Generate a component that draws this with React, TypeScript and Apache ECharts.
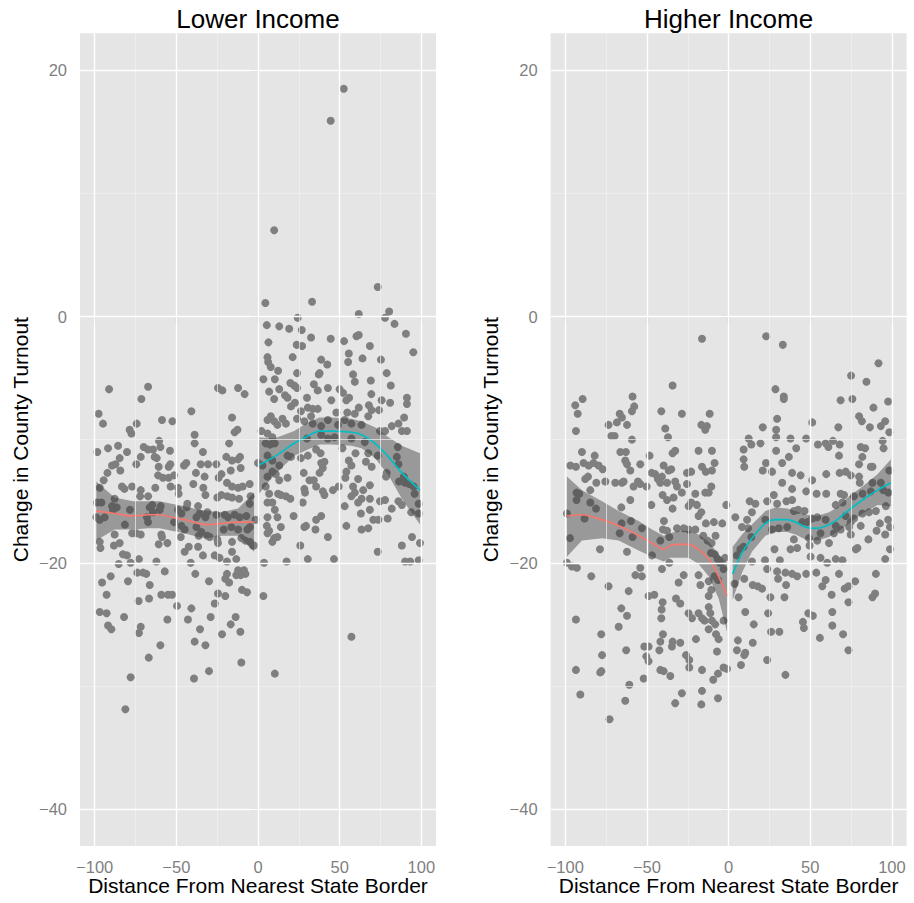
import React, { useEffect, useRef } from "react";
import * as echarts from "echarts";

// ---------- data ----------
const PANEL_TITLES = ["Lower Income", "Higher Income"];
const X_TITLE = "Distance From Nearest State Border";
const Y_TITLE = "Change in County Turnout";
const X_TICKS = [-100, -50, 0, 50, 100];
const Y_TICKS = [-40, -20, 0, 20];
const X_MINOR = [-75, -25, 25, 75];
const Y_MINOR = [-30, -10, 10];

// Lower income, x < 0
const LOW_NEG: number[][] = [
  [-91.2,-5.9],[-67.3,-5.7],[-71.4,-6.7],[-24.5,-5.8],[-21.8,-6.0],[-12.2,-5.8],[-8.2,-6.3],[-97.6,-7.9],[-94.9,-8.7],[-40.8,-7.7],
  [-58.8,-8.4],[-52.4,-8.5],[-74.3,-8.7],[-78.6,-9.2],[-77.5,-9.5],[-15.9,-8.2],[-14.3,-9.4],[-12.6,-9.2],[-38.8,-9.6],[-38.8,-10.3],
  [-17.7,-10.3],[-98.4,-11.0],[-91.8,-10.7],[-85.7,-10.5],[-80.2,-11.0],[-70.0,-10.6],[-67.3,-10.8],[-64.3,-10.8],[-60.6,-10.1],[-59.8,-10.6],
  [-63.3,-11.4],[-62.0,-11.5],[-71.8,-11.4],[-53.9,-10.9],[-33.7,-11.0],[-19.4,-11.4],[-15.9,-11.7],[-12.2,-11.6],[-11.0,-11.4],[-84.7,-11.5],
  [-87.3,-12.0],[-89.4,-12.1],[-74.5,-12.0],[-60.8,-12.2],[-54.7,-12.2],[-53.7,-12.0],[-45.3,-12.1],[-43.9,-11.9],[-35.1,-12.0],[-30.6,-12.0],
  [-25.5,-12.0],[-10.6,-12.3],[-16.7,-12.5],[-84.3,-12.5],[-92.2,-12.7],[-38.0,-12.7],[-22.4,-12.8],[-24.1,-13.1],[-61.2,-12.9],[-58.2,-13.1],
  [-54.7,-13.1],[-51.4,-12.9],[-32.7,-13.0],[-94.5,-13.3],[-83.3,-13.8],[-81.8,-14.0],[-77.1,-13.8],[-71.8,-14.1],[-72.2,-14.6],[-67.3,-14.6],
  [-62.9,-13.9],[-53.5,-13.8],[-49.0,-13.9],[-48.6,-14.4],[-39.6,-13.6],[-33.5,-13.9],[-32.2,-14.5],[-19.0,-13.5],[-15.9,-13.8],[-12.2,-13.9],
  [-9.4,-13.8],[-5.1,-13.6],[-24.9,-14.7],[-22.4,-14.5],[-18.8,-14.6],[-15.9,-14.7],[-11.6,-14.8],[-4.5,-14.6],[-96.9,-13.9],[-87.8,-14.8],
  [-98.6,-15.1],[-95.9,-15.1],[-89.4,-15.4],[-86.5,-15.5],[-88.8,-15.7],[-78.4,-15.7],[-66.3,-15.5],[-64.7,-15.3],[-59.6,-15.4],[-60.2,-15.7],
  [-64.3,-15.9],[-68.0,-16.3],[-49.0,-15.7],[-46.9,-16.0],[-43.7,-15.5],[-43.3,-15.2],[-36.7,-15.4],[-35.7,-16.0],[-31.0,-15.9],[-32.2,-16.3],
  [-37.7,-16.3],[-25.5,-16.1],[-20.4,-16.1],[-18.4,-16.3],[-14.3,-16.1],[-11.2,-16.3],[-7.1,-16.2],[-5.1,-15.2],[-99.0,-16.3],[-96.9,-16.5],
  [-93.9,-16.3],[-81.5,-16.9],[-67.3,-16.7],[-51.4,-16.7],[-46.9,-17.0],[-44.9,-17.3],[-37.7,-17.1],[-34.7,-17.5],[-36.3,-17.8],[-31.0,-17.8],
  [-29.6,-17.9],[-21.0,-17.3],[-16.3,-17.1],[-12.2,-17.3],[-6.5,-17.3],[-4.9,-17.1],[-87.8,-17.7],[-77.1,-17.6],[-74.5,-17.6],[-71.8,-17.7],
  [-59.2,-17.7],[-58.8,-17.9],[-96.9,-18.3],[-96.5,-18.8],[-88.2,-18.6],[-84.7,-18.4],[-60.8,-18.5],[-55.5,-18.4],[-47.3,-17.9],[-42.4,-18.7],
  [-44.9,-19.1],[-36.7,-18.7],[-24.5,-18.4],[-24.9,-18.1],[-15.9,-18.3],[-10.2,-18.0],[-7.7,-18.2],[-4.9,-18.3],[-3.1,-18.6],[-33.7,-19.4],
  [-26.5,-19.4],[-23.5,-19.6],[-19.0,-19.9],[-15.9,-19.1],[-13.3,-19.7],[-82.7,-19.3],[-80.2,-19.4],[-85.3,-20.1],[-78.0,-20.0],[-72.9,-19.7],
  [-62.2,-19.9],[-41.2,-20.0],[-38.4,-20.9],[-12.2,-20.6],[-10.6,-21.0],[-8.6,-20.6],[-7.7,-20.9],[-13.3,-21.0],[-30.0,-21.5],[-20.0,-21.3],
  [-19.0,-20.9],[-17.7,-21.6],[-6.7,-22.4],[-9.8,-22.2],[-90.2,-21.1],[-95.5,-21.6],[-79.6,-21.5],[-73.9,-20.8],[-70.4,-20.8],[-68.4,-20.9],
  [-57.1,-20.7],[-66.3,-21.8],[-92.7,-22.6],[-73.1,-23.1],[-66.7,-22.9],[-59.2,-22.6],[-55.1,-22.6],[-52.6,-22.6],[-49.6,-23.5],[-40.8,-23.7],
  [-26.5,-23.3],[-24.5,-22.5],[-20.0,-22.7],[-96.9,-24.0],[-92.7,-24.1],[-82.0,-24.4],[-55.5,-24.6],[-42.9,-24.6],[-29.0,-24.4],[-13.7,-24.4],
  [-16.7,-25.0],[-10.8,-25.6],[-91.8,-25.1],[-89.8,-25.4],[-71.8,-25.2],[-72.9,-25.7],[-35.5,-25.4],[-22.0,-25.8],[-38.8,-26.4],[-32.2,-26.7],
  [-59.8,-26.7],[-66.9,-27.7],[-10.2,-28.1],[-30.0,-28.8],[-78.0,-29.3],[-39.2,-29.4],[-81.2,-31.9],[-2.5,-18.6],[-1.5,-16.5]
];

// Lower income, x > 0
const LOW_POS: number[][] = [
  [73.3,2.4],[4.5,1.1],[33.1,1.2],[61.7,0.2],[77.8,-0.1],[80.3,0.4],[83.6,-0.6],[24.3,-0.1],[5.4,-0.7],[13.0,-0.8],
  [19.1,-1.0],[26.8,-1.1],[32.5,-1.7],[44.5,-1.8],[52.7,-2.0],[60.3,-1.6],[61.7,-1.5],[90.6,-1.4],[95.1,-2.9],[6.4,-2.1],
  [23.7,-2.3],[27.0,-2.4],[68.5,-2.4],[5.8,-3.3],[6.2,-3.7],[7.8,-4.1],[12.3,-4.4],[21.2,-3.3],[38.7,-3.5],[42.4,-3.9],
  [55.6,-3.0],[55.2,-3.7],[64.0,-3.4],[75.3,-3.5],[78.8,-4.6],[81.3,-5.6],[23.9,-4.6],[3.3,-5.1],[10.3,-5.1],[37.2,-4.7],
  [37.7,-4.6],[58.2,-4.7],[59.3,-5.3],[69.1,-5.2],[19.8,-5.4],[22.2,-5.6],[23.9,-5.8],[34.2,-5.5],[42.8,-5.8],[50.0,-5.9],
  [52.1,-6.2],[6.8,-6.1],[13.0,-5.9],[16.5,-6.4],[18.1,-6.6],[36.6,-6.0],[69.4,-6.3],[9.9,-6.7],[30.0,-6.6],[44.9,-6.8],
  [55.8,-6.6],[54.1,-6.8],[91.2,-6.6],[91.2,-7.1],[22.6,-7.0],[20.2,-7.3],[26.3,-7.7],[30.5,-7.4],[33.5,-7.5],[36.6,-7.5],
  [75.7,-6.8],[80.9,-7.0],[61.7,-7.4],[67.9,-7.2],[69.6,-7.6],[74.1,-7.6],[48.0,-7.8],[54.7,-7.8],[59.3,-7.9],[67.5,-8.1],
  [89.5,-8.2],[7.8,-8.1],[9.9,-8.5],[5.8,-8.4],[15.0,-8.3],[17.1,-8.7],[11.9,-8.8],[23.9,-8.3],[28.4,-8.5],[32.5,-8.1],
  [33.5,-8.7],[38.7,-8.9],[42.8,-8.4],[49.0,-8.8],[53.1,-8.4],[57.2,-8.7],[63.4,-8.8],[81.9,-8.9],[86.0,-8.7],[88.1,-9.3],
  [91.2,-9.3],[2.1,-9.3],[5.8,-9.5],[8.8,-9.8],[10.3,-10.3],[4.7,-10.3],[7.4,-10.4],[30.0,-9.9],[38.7,-9.6],[42.8,-9.9],
  [46.9,-9.8],[57.2,-9.9],[65.4,-10.2],[74.7,-9.3],[77.8,-9.3],[85.6,-10.6],[85.0,-11.4],[86.0,-12.0],[0.0,-11.9],[2.7,-12.1],
  [5.8,-11.3],[8.8,-11.7],[13.0,-12.1],[18.1,-11.3],[20.2,-11.4],[26.3,-11.5],[30.5,-11.3],[38.7,-11.9],[40.7,-11.8],[35.6,-10.8],
  [38.3,-11.1],[51.7,-10.7],[55.6,-11.7],[57.2,-12.1],[59.7,-11.1],[66.1,-11.8],[67.5,-11.1],[69.6,-12.2],[73.3,-11.3],[8.8,-12.6],
  [5.8,-13.0],[10.9,-12.8],[13.0,-13.3],[18.1,-13.1],[28.0,-12.7],[31.5,-13.3],[34.2,-13.3],[37.7,-12.7],[39.7,-12.3],[54.1,-12.6],
  [53.5,-13.1],[61.3,-13.2],[78.8,-12.7],[78.4,-13.0],[86.4,-13.4],[89.3,-13.0],[90.1,-13.5],[92.6,-13.6],[95.3,-13.8],[95.9,-14.4],
  [4.7,-13.8],[6.8,-14.4],[12.3,-14.4],[14.0,-14.5],[17.1,-14.6],[19.8,-14.8],[28.4,-14.0],[28.8,-14.3],[35.6,-13.8],[39.7,-14.2],
  [40.7,-14.5],[45.9,-14.1],[49.4,-13.8],[58.2,-13.8],[59.3,-14.3],[64.4,-14.1],[68.5,-13.7],[57.2,-14.6],[63.4,-14.8],[68.5,-14.8],
  [74.7,-15.0],[77.8,-14.9],[5.8,-15.1],[8.8,-15.1],[10.3,-15.7],[5.8,-16.3],[11.9,-16.3],[21.8,-16.2],[27.4,-15.1],[53.1,-15.4],
  [61.3,-15.1],[63.0,-16.0],[68.5,-15.7],[73.7,-16.5],[70.6,-16.5],[79.4,-16.4],[81.9,-15.6],[86.0,-15.0],[88.1,-15.3],[93.8,-15.9],
  [98.4,-15.2],[98.4,-16.0],[5.4,-17.0],[6.8,-17.4],[5.8,-17.6],[14.0,-17.1],[9.9,-18.0],[8.8,-18.3],[11.9,-17.9],[28.4,-17.1],
  [29.4,-17.0],[35.2,-17.3],[35.6,-16.5],[38.7,-16.2],[54.1,-17.0],[42.8,-17.9],[63.4,-17.3],[67.5,-17.2],[25.9,-18.6],[46.5,-19.7],
  [30.5,-19.7],[17.5,-19.9],[3.7,-20.0],[94.3,-17.9],[99.2,-18.4],[88.1,-18.6],[73.3,-19.1],[90.1,-19.9],[93.2,-19.9],[98.4,-19.8],
  [3.3,-22.7],[57.2,-26.0],[10.3,-29.0],[52.5,18.5],[44.5,15.9],[9.9,7.0]
];

// Higher income, x < 0
const HIGH_NEG: number[][] = [
  [-16.3,-1.8],[-34.3,-5.6],[-58.8,-6.5],[-93.9,-7.2],[-89.4,-6.7],[-92.4,-7.9],[-66.7,-7.9],[-65.3,-8.2],[-57.8,-7.3],[-59.2,-7.7],
  [-41.2,-7.7],[-28.6,-7.9],[-11.6,-7.9],[-73.5,-8.8],[-68.4,-8.6],[-62.2,-8.8],[-16.7,-8.8],[-14.3,-9.2],[-13.3,-8.9],[-38.8,-9.1],
  [-37.1,-9.8],[-93.5,-9.3],[-71.8,-9.7],[-69.8,-9.7],[-59.2,-10.0],[-89.8,-11.0],[-82.0,-11.3],[-66.3,-11.0],[-62.9,-11.0],[-48.4,-11.3],
  [-34.3,-11.1],[-32.7,-10.9],[-18.4,-10.9],[-10.2,-10.9],[-96.9,-12.1],[-93.5,-12.2],[-88.8,-11.9],[-85.7,-12.1],[-82.7,-11.9],[-79.6,-12.1],
  [-77.1,-12.4],[-63.3,-11.7],[-62.2,-12.0],[-60.2,-12.5],[-54.1,-12.0],[-47.1,-12.7],[-44.9,-12.8],[-39.8,-12.1],[-36.7,-12.5],[-35.1,-12.4],
  [-40.8,-13.0],[-25.5,-12.7],[-22.9,-12.6],[-16.3,-12.2],[-14.0,-12.6],[-10.2,-12.5],[-8.6,-11.9],[-87.8,-13.2],[-86.1,-13.0],[-81.0,-13.5],
  [-75.5,-13.4],[-69.4,-13.5],[-65.3,-13.5],[-64.3,-13.4],[-58.2,-13.8],[-55.5,-13.4],[-54.1,-13.6],[-50.2,-13.8],[-43.3,-13.2],[-41.8,-13.5],
  [-37.7,-13.5],[-32.7,-13.4],[-31.6,-13.8],[-25.5,-13.6],[-84.7,-14.1],[-60.2,-14.9],[-47.3,-15.3],[-40.4,-14.5],[-37.7,-14.9],[-33.7,-14.7],
  [-34.3,-15.6],[-28.6,-14.3],[-24.5,-15.4],[-22.9,-15.1],[-20.4,-14.4],[-19.4,-15.3],[-18.4,-16.2],[-16.7,-15.9],[-14.3,-14.3],[-12.2,-14.3],
  [-10.6,-13.8],[-93.1,-14.3],[-91.4,-14.4],[-93.1,-14.9],[-84.7,-15.1],[-81.2,-15.6],[-65.7,-15.5],[-99.0,-16.0],[-88.2,-16.4],[-65.5,-16.8],
  [-59.8,-16.6],[-53.1,-17.2],[-39.6,-16.6],[-40.2,-17.3],[-37.7,-17.4],[-31.6,-17.2],[-27.5,-17.2],[-24.5,-17.3],[-20.4,-17.3],[-13.9,-16.8],
  [-9.0,-16.7],[-3.9,-16.8],[-1.4,-15.3],[-97.1,-18.0],[-78.8,-18.9],[-66.7,-17.6],[-62.2,-19.1],[-58.8,-17.9],[-46.9,-19.4],[-41.8,-18.2],
  [-36.3,-17.9],[-36.3,-20.0],[-40.8,-20.5],[-15.5,-17.8],[-12.9,-18.2],[-10.4,-18.4],[-8.0,-17.8],[-10.8,-19.2],[-8.4,-19.3],[-6.7,-19.7],
  [-5.3,-20.0],[-2.2,-19.6],[-3.1,-20.5],[-99.0,-20.0],[-95.9,-20.3],[-92.9,-20.4],[-84.1,-21.1],[-73.5,-21.9],[-61.2,-22.3],[-54.1,-20.4],
  [-57.1,-21.0],[-53.1,-21.1],[-30.6,-21.6],[-27.5,-21.0],[-18.4,-21.0],[-17.3,-21.8],[-12.2,-21.5],[-10.6,-22.2],[-8.6,-21.1],[-6.5,-21.4],
  [-49.0,-22.7],[-45.5,-22.6],[-40.4,-23.2],[-41.0,-23.8],[-41.2,-24.5],[-32.2,-22.9],[-29.6,-23.3],[-24.5,-24.1],[-22.4,-24.5],[-18.4,-24.1],
  [-16.3,-24.5],[-14.7,-24.7],[-12.2,-22.7],[-12.2,-23.6],[-11.2,-24.1],[-10.2,-24.7],[-8.2,-25.0],[-12.2,-25.4],[-7.7,-25.8],[-6.1,-26.2],
  [-7.1,-27.2],[-3.1,-24.7],[-93.5,-24.6],[-65.7,-23.7],[-62.2,-24.3],[-67.3,-25.2],[-78.0,-25.8],[-77.5,-27.5],[-78.6,-28.9],[-77.9,-28.8],
  [-62.7,-27.1],[-51.6,-26.8],[-49.0,-26.8],[-50.4,-27.6],[-49.0,-28.0],[-41.8,-26.4],[-40.2,-25.8],[-42.4,-27.1],[-34.3,-26.4],[-29.6,-26.5],
  [-34.7,-26.8],[-20.0,-26.2],[-26.1,-27.5],[-24.1,-27.9],[-24.1,-28.5],[-93.5,-28.7],[-90.8,-30.7],[-60.8,-29.9],[-63.3,-31.2],[-52.0,-29.4],
  [-41.8,-28.7],[-39.8,-28.8],[-35.7,-29.2],[-32.7,-31.4],[-28.6,-30.6],[-16.3,-30.4],[-16.7,-31.5],[-16.3,-28.7],[-9.4,-29.5],[-6.5,-29.0],
  [-3.1,-28.5],[-6.5,-31.0],[-72.9,-32.7],[-1.0,-28.6]
];

// Higher income, x > 0
const HIGH_POS: number[][] = [
  [23.0,-1.6],[33.2,-2.3],[91.8,-3.8],[75.0,-4.8],[84.4,-5.3],[28.7,-5.9],[33.8,-6.5],[33.8,-6.7],[68.6,-6.8],[75.8,-6.7],
  [88.7,-7.4],[97.7,-6.9],[29.7,-8.3],[51.2,-8.6],[67.2,-9.0],[79.9,-8.1],[81.6,-8.5],[86.5,-9.0],[93.2,-8.9],[95.9,-8.5],
  [98.4,-9.4],[20.9,-9.0],[29.1,-9.2],[29.1,-9.8],[37.9,-9.9],[47.5,-9.9],[12.3,-9.9],[13.9,-10.4],[9.2,-10.8],[19.5,-10.3],
  [29.1,-10.9],[41.4,-10.7],[54.7,-10.4],[59.4,-10.3],[63.9,-10.1],[68.0,-10.4],[61.1,-10.6],[80.9,-10.6],[83.6,-10.7],[94.3,-10.1],
  [94.9,-10.7],[9.2,-11.6],[9.6,-12.2],[20.9,-12.5],[22.9,-11.9],[26.6,-12.6],[32.8,-11.9],[36.9,-11.4],[38.9,-12.7],[44.1,-12.9],
  [51.2,-13.3],[59.8,-12.8],[67.6,-11.3],[68.0,-12.7],[71.7,-12.6],[74.8,-12.9],[79.9,-12.0],[81.9,-11.4],[87.1,-12.2],[88.1,-12.2],
  [79.9,-13.0],[80.3,-13.5],[88.1,-13.5],[32.8,-13.5],[38.9,-14.0],[47.5,-14.2],[53.9,-14.4],[59.8,-14.4],[68.6,-14.4],[70.7,-14.5],
  [76.8,-14.6],[82.0,-14.4],[87.1,-14.2],[93.2,-13.5],[94.7,-14.1],[98.4,-12.5],[27.7,-14.5],[23.6,-15.0],[16.4,-15.2],[12.9,-15.0],
  [14.3,-15.9],[29.7,-15.2],[35.4,-15.0],[38.9,-14.9],[40.0,-15.8],[42.6,-15.7],[46.5,-15.8],[51.2,-16.4],[54.3,-16.3],[59.4,-16.5],
  [65.6,-15.3],[69.7,-15.1],[71.7,-16.2],[74.8,-16.7],[76.8,-16.4],[81.9,-16.0],[86.0,-15.9],[90.2,-15.8],[96.3,-15.4],[97.9,-14.3],
  [4.1,-16.3],[8.2,-17.1],[11.3,-16.5],[11.9,-17.2],[13.9,-17.9],[22.5,-16.5],[26.6,-17.3],[30.7,-17.2],[35.9,-17.1],[45.1,-16.7],
  [48.2,-16.7],[28.1,-18.9],[37.9,-18.9],[42.0,-18.8],[40.0,-18.1],[49.2,-18.0],[49.6,-18.6],[54.3,-18.2],[56.3,-17.6],[61.5,-18.4],
  [64.5,-17.6],[65.6,-17.0],[68.6,-17.3],[73.8,-17.1],[74.8,-17.7],[80.9,-17.0],[85.6,-18.1],[90.6,-17.4],[92.6,-16.8],[97.7,-16.5],
  [98.8,-17.1],[95.9,-17.7],[5.1,-19.4],[7.2,-18.9],[9.2,-18.7],[14.3,-19.9],[22.3,-19.8],[23.6,-20.5],[31.4,-19.8],[29.7,-20.7],
  [34.8,-20.8],[38.9,-20.9],[47.5,-20.9],[50.2,-19.5],[53.7,-20.8],[56.3,-19.6],[60.4,-20.0],[65.6,-19.7],[67.6,-20.9],[69.7,-19.8],
  [77.9,-18.9],[78.9,-18.8],[90.2,-20.9],[95.9,-19.7],[98.8,-18.9],[3.7,-21.7],[6.1,-22.8],[9.6,-21.3],[14.8,-21.8],[17.8,-21.9],
  [20.5,-22.1],[25.6,-22.8],[30.3,-21.3],[34.2,-22.8],[35.2,-21.8],[42.0,-21.1],[57.4,-21.9],[59.4,-21.4],[63.1,-22.6],[71.1,-22.1],
  [73.4,-21.9],[73.4,-23.2],[77.5,-21.5],[88.1,-22.8],[89.7,-22.5],[10.2,-24.0],[15.4,-25.0],[24.2,-24.1],[26.0,-25.6],[31.1,-25.6],
  [45.5,-24.8],[46.1,-25.3],[48.8,-24.1],[51.6,-24.3],[55.9,-26.1],[63.5,-24.0],[63.5,-25.1],[70.1,-25.8],[5.7,-26.3],[5.1,-27.1],
  [10.2,-27.3],[9.6,-27.5],[14.8,-26.5],[23.6,-27.9],[7.6,-28.3],[34.8,-29.1],[73.4,-27.1]
];

// Smoothers (loess fits) and their confidence bands
const LOW_NEG_FIT_X = [-99, -87.8, -76.5, -67.3, -60.2, -53, -44.9, -36.7, -30.6, -22.4, -12.2, -2.4];
const LOW_NEG_FIT_Y = [-15.8, -16.0, -16.2, -16.1, -16.1, -16.3, -16.5, -16.8, -16.9, -16.8, -16.7, -16.7];
const LOW_NEG_FIT_HI = [-13.4, -14.7, -15.0, -15.0, -15.0, -15.2, -15.4, -15.7, -15.8, -15.9, -15.6, -14.3];
const LOW_NEG_FIT_LO = [-18.2, -17.3, -17.3, -17.2, -17.2, -17.4, -17.6, -17.9, -18.0, -17.8, -17.8, -19.1];

const LOW_POS_FIT_X = [0, 9.9, 22.2, 30.5, 37.7, 44.9, 57.2, 63.4, 71.6, 79.9, 88.1, 99.2];
const LOW_POS_FIT_Y = [-12.1, -11.4, -10.3, -9.7, -9.3, -9.3, -9.4, -9.6, -10.3, -11.4, -12.7, -14.1];
const LOW_POS_FIT_HI = [-9.8, -9.9, -9.3, -8.6, -8.2, -8.2, -8.3, -8.5, -9.0, -9.8, -10.5, -11.1];
const LOW_POS_FIT_LO = [-14.5, -12.9, -11.3, -10.8, -10.4, -10.4, -10.5, -10.7, -11.5, -12.9, -14.8, -16.9];

const HIGH_NEG_FIT_X = [-99, -89.8, -77.5, -67.3, -55.1, -46.9, -39.8, -35.7, -30.6, -24.5, -18.4, -12.2, -6.1, -1];
const HIGH_NEG_FIT_Y = [-16.2, -16.1, -16.5, -17.0, -17.8, -18.4, -18.9, -18.6, -18.5, -18.5, -18.9, -19.7, -21.1, -22.7];
const HIGH_NEG_FIT_HI = [-13.0, -14.1, -15.0, -15.8, -16.6, -17.3, -17.8, -17.6, -17.4, -17.4, -17.7, -18.3, -19.3, -20.0];
const HIGH_NEG_FIT_LO = [-19.5, -18.2, -18.0, -18.2, -19.0, -19.5, -19.9, -19.6, -19.6, -19.6, -20.1, -21.1, -22.9, -25.6];

const HIGH_POS_FIT_X = [2.5, 8.2, 14.3, 22.5, 28.7, 35.9, 41, 47.1, 54.3, 61.5, 66.6, 73.8, 82, 91.2, 99.4];
const HIGH_POS_FIT_Y = [-20.9, -19.2, -18.0, -16.8, -16.5, -16.5, -16.7, -17.1, -17.2, -16.9, -16.5, -15.7, -14.9, -14.1, -13.5];
const HIGH_POS_FIT_HI = [-18.7, -17.7, -16.9, -15.8, -15.5, -15.6, -15.8, -16.1, -16.2, -15.9, -15.5, -14.6, -13.8, -12.8, -11.6];
const HIGH_POS_FIT_LO = [-23.0, -20.8, -19.1, -17.8, -17.5, -17.5, -17.7, -18.1, -18.2, -17.9, -17.5, -16.8, -16.0, -15.3, -15.4];

// ---------- styling ----------
const FONT = '"Liberation Sans", Arial, Helvetica, sans-serif';
const RED = "#F8766D";
const CYAN = "#00BFC4";
const POINT = "#7F7F7F";
const GRID_TOP = 33.3;
const GRID_H = 812.7;
const GRID_W = 356;
const PANEL_LEFT = [80, 550.6];

const minus = (v: number) => (v < 0 ? "\u2212" + Math.abs(v) : String(v));

function ribbon(idx: number, xs: number[], lo: number[], hi: number[]) {
  return {
    type: "custom",
    xAxisIndex: idx,
    yAxisIndex: idx,
    z: 3,
    silent: true,
    data: xs.map((x, i) => [x, lo[i], hi[i]]),
    encode: { x: 0, y: [1, 2] },
    renderItem: (params: any, api: any) => {
      if (params.dataIndex !== 0) return null;
      const top = xs.map((x, i) => api.coord([x, hi[i]]));
      const bot = xs.map((x, i) => api.coord([x, lo[i]])).reverse();
      return {
        type: "polygon",
        shape: { points: top.concat(bot) },
        style: { fill: "rgba(60,60,60,0.45)" },
      };
    },
  };
}

function fitLine(idx: number, xs: number[], ys: number[], color: string) {
  return {
    type: "line",
    xAxisIndex: idx,
    yAxisIndex: idx,
    z: 4,
    silent: true,
    showSymbol: false,
    smooth: 0.3,
    data: xs.map((x, i) => [x, ys[i]]),
    lineStyle: { color, width: 1.7 },
  };
}

function gridLines(idx: number) {
  const major = { color: "#FFFFFF", width: 1.4, type: "solid" };
  const minor = { color: "#F2F2F2", width: 0.7, type: "solid" };
  const data: any[] = [];
  X_MINOR.forEach((v) => data.push({ xAxis: v, lineStyle: minor }));
  Y_MINOR.forEach((v) => data.push({ yAxis: v, lineStyle: minor }));
  X_TICKS.forEach((v) => data.push({ xAxis: v, lineStyle: major }));
  Y_TICKS.forEach((v) => data.push({ yAxis: v, lineStyle: major }));
  return {
    type: "scatter",
    xAxisIndex: idx,
    yAxisIndex: idx,
    z: 1,
    data: [],
    symbolSize: 0,
    markLine: {
      silent: true,
      symbol: ["none", "none"],
      label: { show: false },
      animation: false,
      data,
    },
  };
}

function scatter(idx: number, pts: number[][]) {
  return {
    type: "scatter",
    xAxisIndex: idx,
    yAxisIndex: idx,
    z: 2,
    silent: true,
    symbolSize: 8,
    itemStyle: { color: POINT, opacity: 1 },
    data: pts,
  };
}

export default function App() {
  const ref = useRef<HTMLDivElement>(null);
  useEffect(() => {
    if (!ref.current) return;
    const chart = echarts.init(ref.current, undefined, { renderer: "svg" });
    const xAxis = [0, 1].map((i) => ({
      type: "value",
      gridIndex: i,
      min: -109,
      max: 109,
      axisLine: { show: false },
      splitLine: { show: false },
      axisTick: { show: true, length: 7, customValues: X_TICKS, lineStyle: { color: "#7F7F7F", width: 1.2 } },
      axisLabel: {
        customValues: X_TICKS,
        formatter: minus,
        color: "#7F7F7F",
        fontSize: 16.5,
        fontFamily: FONT,
        margin: 12,
      },
    }));
    const yAxis = [0, 1].map((i) => ({
      type: "value",
      gridIndex: i,
      min: -43,
      max: 23,
      axisLine: { show: false },
      splitLine: { show: false },
      axisTick: { show: true, length: 7, customValues: Y_TICKS, lineStyle: { color: "#7F7F7F", width: 1.2 } },
      axisLabel: {
        customValues: Y_TICKS,
        formatter: minus,
        color: "#7F7F7F",
        fontSize: 16.5,
        fontFamily: FONT,
        margin: 13,
      },
    }));
    const graphic: any[] = [];
    [0, 1].forEach((i) => {
      const cx = PANEL_LEFT[i] + GRID_W / 2;
      graphic.push({
        type: "text",
        x: cx,
        y: 18.5,
        style: { text: PANEL_TITLES[i], font: `26px ${FONT}`, fill: "#000", textAlign: "center", textVerticalAlign: "middle", align: "center", verticalAlign: "middle" },
      });
      graphic.push({
        type: "text",
        x: cx,
        y: 885.5,
        style: { text: X_TITLE, font: `21px ${FONT}`, fill: "#000", textAlign: "center", textVerticalAlign: "middle", align: "center", verticalAlign: "middle" },
      });
      graphic.push({
        type: "text",
        x: PANEL_LEFT[i] - 60,
        y: GRID_TOP + GRID_H / 2,
        rotation: Math.PI / 2,
        style: { text: Y_TITLE, font: `21px ${FONT}`, fill: "#000", textAlign: "center", textVerticalAlign: "middle", align: "center", verticalAlign: "middle" },
      });
    });
    chart.setOption({
      animation: false,
      backgroundColor: "#FFFFFF",
      grid: [0, 1].map((i) => ({
        left: PANEL_LEFT[i],
        top: GRID_TOP,
        width: GRID_W,
        height: GRID_H,
        show: true,
        backgroundColor: "#E5E5E5",
        borderWidth: 0,
        containLabel: false,
      })),
      xAxis,
      yAxis,
      graphic,
      series: [
        gridLines(0),
        gridLines(1),
        scatter(0, LOW_NEG.concat(LOW_POS)),
        scatter(1, HIGH_NEG.concat(HIGH_POS)),
        ribbon(0, LOW_NEG_FIT_X, LOW_NEG_FIT_LO, LOW_NEG_FIT_HI),
        ribbon(0, LOW_POS_FIT_X, LOW_POS_FIT_LO, LOW_POS_FIT_HI),
        ribbon(1, HIGH_NEG_FIT_X, HIGH_NEG_FIT_LO, HIGH_NEG_FIT_HI),
        ribbon(1, HIGH_POS_FIT_X, HIGH_POS_FIT_LO, HIGH_POS_FIT_HI),
        fitLine(0, LOW_NEG_FIT_X, LOW_NEG_FIT_Y, RED),
        fitLine(0, LOW_POS_FIT_X, LOW_POS_FIT_Y, CYAN),
        fitLine(1, HIGH_NEG_FIT_X, HIGH_NEG_FIT_Y, RED),
        fitLine(1, HIGH_POS_FIT_X, HIGH_POS_FIT_Y, CYAN),
      ],
    });
    return () => chart.dispose();
  }, []);
  return <div ref={ref} style={{ position: "absolute", left: 0, top: 0, width: 914, height: 903 }} />;
}
